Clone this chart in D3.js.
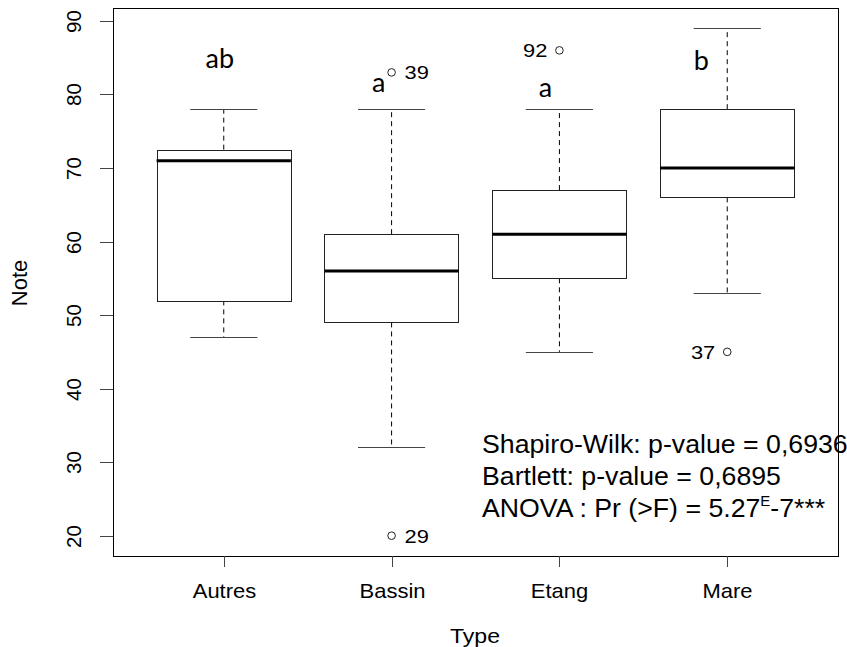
<!DOCTYPE html>
<html>
<head>
<meta charset="utf-8">
<script src="https://cdn.jsdelivr.net/npm/d3@7"></script>
<style>
  html, body { margin: 0; padding: 0; background: #fff; }
  svg text { font-family: "Liberation Sans", Arial, sans-serif; fill: #000; }
</style>
</head>
<body>
<svg id="chart" width="847" height="647"></svg>
<script>
// Habitat types and their five-number summaries (lower whisker, Q1, median, Q3, upper whisker)
const types = ["Autres", "Bassin", "Etang", "Mare"];
const lowerWhisker = [47, 32, 45, 53];
const q1 = [52, 49, 55, 66];
const median = [71, 56, 61, 70];
const q3 = [72.5, 61, 67, 78];
const upperWhisker = [78, 78, 78, 89];

// Outlying observations with their row numbers
const outlierType = ["Bassin", "Bassin", "Etang", "Mare"];
const outlierValue = [83, 20, 86, 45];
const outlierId = ["39", "29", "92", "37"];
const outlierSide = ["right", "right", "left", "left"];

// Post-hoc grouping letters
const groupLetters = ["ab", "a", "a", "b"];
const letterValue = [83.6, 80.3, 79.7, 83.3];

const yTicks = [20, 30, 40, 50, 60, 70, 80, 90];
const statLines = [
  ["Shapiro-Wilk: p-value = 0,6936"],
  ["Bartlett: p-value = 0,6895"],
  ["ANOVA : Pr (>F) = 5.27", "E", "-7***"]
];

const svg = d3.select("#chart");
const plot = { left: 113, right: 838, top: 8, bottom: 556 };
// horizontal nudges of the grouping letters relative to their box
const letterNudge = [-4, -13, -14, -26];

// R-style axis extents: 4% padding around the data range
const yMin = 20, yMax = 89, pad = (yMax - yMin) * 0.04;
const y = d3.scaleLinear().domain([yMin - pad, yMax + pad]).range([plot.bottom, plot.top]);
const x = d3.scaleLinear().domain([0.5 - 0.16, 4.5 + 0.16]).range([plot.left, plot.right]);
const pos = name => x(types.indexOf(name) + 1);
const boxHalf = x(1.4) - x(1);
const capHalf = boxHalf / 2;

// horizontally widened text, as in the R device output
function wideText(sel, px, py, sx) {
  return sel.append("text").attr("transform", `translate(${px},${py}) scale(${sx},1)`);
}

// Boxes
types.forEach((t, i) => {
  const cx = x(i + 1);
  const g = svg.append("g");
  // whiskers
  g.append("line").attr("x1", cx).attr("x2", cx).attr("y1", y(q3[i])).attr("y2", y(upperWhisker[i]))
    .attr("stroke", "#000").attr("stroke-dasharray", "5,4");
  g.append("line").attr("x1", cx).attr("x2", cx).attr("y1", y(q1[i])).attr("y2", y(lowerWhisker[i]))
    .attr("stroke", "#000").attr("stroke-dasharray", "5,4");
  // caps
  [upperWhisker[i], lowerWhisker[i]].forEach(v => {
    g.append("line").attr("x1", cx - capHalf).attr("x2", cx + capHalf)
      .attr("y1", Math.round(y(v)) + 0.5).attr("y2", Math.round(y(v)) + 0.5)
      .attr("stroke", "#444");
  });
  // box
  g.append("rect").attr("x", Math.round(cx - boxHalf) + 0.5).attr("y", Math.round(y(q3[i])) + 0.5)
    .attr("width", Math.round(2 * boxHalf)).attr("height", Math.round(y(q1[i]) - y(q3[i])))
    .attr("fill", "#fff").attr("stroke", "#222");
  // median
  g.append("line").attr("x1", cx - boxHalf).attr("x2", cx + boxHalf)
    .attr("y1", y(median[i])).attr("y2", y(median[i]))
    .attr("stroke", "#000").attr("stroke-width", 3);
});

// Outliers and their labels
outlierValue.forEach((v, k) => {
  const cx = pos(outlierType[k]);
  svg.append("circle").attr("cx", cx).attr("cy", y(v)).attr("r", 3.8)
    .attr("fill", "none").attr("stroke", "#222").attr("stroke-width", 1);
  const right = outlierSide[k] === "right";
  wideText(svg, right ? cx + 13 : cx - 12, y(v), 1.15)
    .attr("dy", "0.36em")
    .attr("text-anchor", right ? "start" : "end")
    .style("font-size", "19px")
    .text(outlierId[k]);
});

// Grouping letters
groupLetters.forEach((l, i) => {
  svg.append("text").attr("x", x(i + 1) + letterNudge[i]).attr("y", y(letterValue[i]))
    .attr("text-anchor", "middle")
    .style("font-family", "Lato, 'Open Sans', sans-serif")
    .style("font-size", "27px")
    .text(l);
});

// Plot frame
svg.append("rect").attr("x", plot.left + 0.5).attr("y", plot.top + 0.5)
  .attr("width", plot.right - plot.left).attr("height", plot.bottom - plot.top)
  .attr("fill", "none").attr("stroke", "#000");

// Y axis
const yAxis = svg.append("g");
yTicks.forEach(t => {
  const ty = Math.round(y(t)) + 0.5;
  yAxis.append("line").attr("x1", plot.left - 13).attr("x2", plot.left).attr("y1", ty).attr("y2", ty)
    .attr("stroke", "#444");
  yAxis.append("text").attr("transform", `translate(${plot.left - 32},${ty}) rotate(-90)`)
    .attr("text-anchor", "middle").style("font-size", "20.5px").text(t);
});

// X axis
const xAxis = svg.append("g");
types.forEach((t, i) => {
  const tx = Math.round(x(i + 1)) + 0.5;
  xAxis.append("line").attr("x1", tx).attr("x2", tx).attr("y1", plot.bottom).attr("y2", plot.bottom + 11)
    .attr("stroke", "#444");
  wideText(xAxis, tx, 598, 1.1).attr("text-anchor", "middle")
    .style("font-size", "20px").text(t);
});

// Axis titles
wideText(svg, 475, 643, 1.1).attr("text-anchor", "middle")
  .style("font-size", "21px").text("Type");
svg.append("text").attr("transform", "translate(27,283) rotate(-90)").attr("text-anchor", "middle")
  .style("font-size", "22px").text("Note");

// Test statistics
statLines.forEach((parts, j) => {
  const t = svg.append("text").attr("x", 482).attr("y", 453 + j * 32).style("font-size", "26.7px");
  t.append("tspan").text(parts[0]);
  if (parts.length > 1) {
    t.append("tspan").attr("dy", -11).style("font-size", "15px").text(parts[1]);
    t.append("tspan").attr("dy", 11).text(parts[2]);
  }
});
</script>
</body>
</html>
